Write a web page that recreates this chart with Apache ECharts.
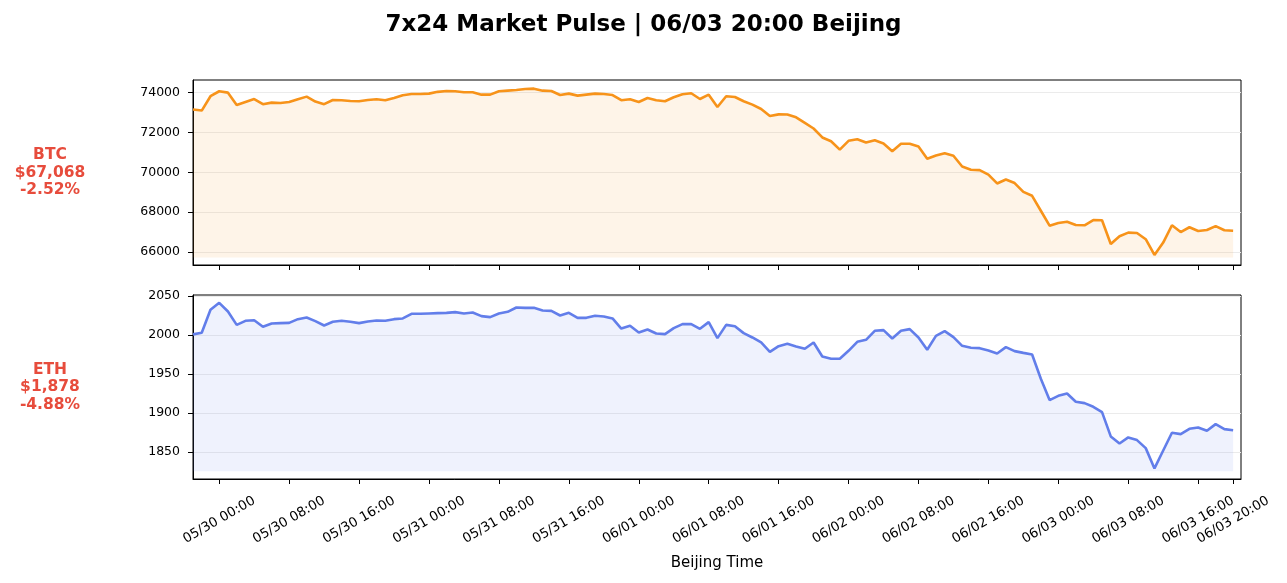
<!DOCTYPE html>
<html>
<head>
<meta charset="utf-8">
<script src="https://cdn.jsdelivr.net/npm/echarts@6/dist/echarts.min.js"></script>
<style>
  html, body { margin: 0; padding: 0; background: #fff; }
  #chart { width: 1287px; height: 583px; }
</style>
</head>
<body>
<div id="chart"></div>
<script>
// hourly closes, first point 05/29 21:00 Beijing, last 06/03 20:00
const days = ['05/29', '05/30', '05/31', '06/01', '06/02', '06/03'];
const firstHour = -3; // hours relative to 05/30 00:00
const tickHours = [0, 8, 16, 24, 32, 40, 48, 56, 64, 72, 80, 88, 96, 104, 112, 116];

const btc = [
  73150, 73100, 73820, 74070, 74000, 73380, 73530, 73680, 73420, 73500,
  73480, 73530, 73670, 73800, 73550, 73420, 73630, 73620, 73580, 73570,
  73630, 73670, 73620, 73730, 73870, 73930, 73930, 73950, 74040, 74080,
  74070, 74020, 74020, 73900, 73900, 74070, 74100, 74130, 74180, 74200,
  74100, 74080, 73880, 73950, 73850, 73900, 73950, 73930, 73880, 73620,
  73670, 73530, 73730, 73620, 73570, 73770, 73920, 73970, 73680, 73900,
  73280, 73820, 73780, 73570, 73400, 73180, 72830, 72910, 72900, 72760,
  72480, 72200, 71750, 71560, 71140, 71580, 71660, 71500, 71610, 71450,
  71060, 71430, 71430, 71290, 70680, 70840, 70960, 70830, 70290, 70130,
  70110, 69880, 69440, 69640, 69460, 69020, 68820, 68070, 67320, 67450,
  67520, 67350, 67340, 67600, 67590, 66400, 66790, 66970, 66950, 66640,
  65850, 66470, 67340, 67000, 67240, 67050, 67100, 67300, 67090, 67068
];
const eth = [
  2001, 2003, 2032.5, 2041.5, 2030.3, 2013.2, 2018.4, 2019.2, 2010.7, 2015,
  2015.4, 2015.8, 2020.5, 2022.6, 2018, 2012.4, 2017.1, 2018.4, 2017.1, 2015.4,
  2017.5, 2018.8, 2018.4, 2020.5, 2021.4, 2027.4, 2027.4, 2027.8, 2028.2, 2028.6,
  2029.5, 2027.8, 2029.1, 2024.4, 2023.1, 2027.8, 2029.9, 2035.5, 2035, 2035,
  2031.6, 2031.2, 2025.2, 2028.6, 2022.2, 2022.2, 2024.8, 2023.9, 2021.4, 2008.5,
  2012, 2003.4, 2007.3, 2002.1, 2001.3, 2009, 2014.1, 2014.1, 2008.1, 2016.7,
  1996.2, 2013.2, 2011.5, 2002.6, 1997, 1990.6, 1978.6, 1985.9, 1988.9, 1985.5,
  1982.5, 1990.6, 1972.6, 1969.7, 1969.7, 1979.9, 1991.5, 1994, 2005.6, 2006.4,
  1995.7, 2005.6, 2007.7, 1997, 1981.2, 1999.1, 2005.1, 1997.4, 1986.3, 1983.8,
  1983.3, 1980.3, 1976.5, 1984.6, 1979.5, 1977.3, 1975.2, 1944, 1916.7, 1922.2,
  1925.2, 1914.5, 1912.8, 1908.1, 1901.3, 1870.1, 1861.1, 1868.8, 1865.4, 1855.1,
  1829.1, 1852.1, 1874.8, 1873.1, 1879.9, 1881.6, 1877.3, 1885.9, 1879.5, 1878
];
const btcTicks = [66000, 68000, 70000, 72000, 74000];
const ethTicks = [1850, 1900, 1950, 2000, 2050];
const labels = [
  ['BTC', '$67,068', '-2.52%'],
  ['ETH', '$1,878', '-4.88%']
];

const FONT = 'DejaVu Sans';
const pad = (n) => (n < 10 ? '0' : '') + n;
const hourLabel = (h) => {
  const d = Math.floor(h / 24) + 1;
  const hh = ((h % 24) + 24) % 24;
  return days[d] + ' ' + pad(hh) + ':00';
};
const toPoints = (arr) => arr.map((v, i) => [firstHour + i, v]);

const chart = echarts.init(document.getElementById('chart'), null, { renderer: 'canvas' });

const gridBase = { left: 193, right: 46, show: true, borderColor: '#000', borderWidth: 1, backgroundColor: '#fff' };

const xAxisBase = (idx, showLabels) => ({
  type: 'value',
  gridIndex: idx,
  min: -3,
  max: 116.9,
  axisLine: { show: true, onZero: false, lineStyle: { color: '#000', width: 1 } },
  axisTick: { show: true, customValues: tickHours, length: 5, inside: false, lineStyle: { color: '#000', width: 1 } },
  axisLabel: {
    show: showLabels,
    customValues: tickHours,
    rotate: 30,
    align: 'center',
    verticalAlign: 'middle',
    margin: 41,
    fontFamily: FONT,
    fontSize: 13.3,
    color: '#000',
    formatter: (v) => hourLabel(v)
  },
  splitLine: { show: false },
  name: showLabels ? 'Beijing Time' : '',
  nameLocation: 'middle',
  nameGap: 77,
  nameTextStyle: { fontFamily: FONT, fontSize: 15, color: '#000' }
});

const yAxisBase = (idx, min, max, ticks) => ({
  type: 'value',
  gridIndex: idx,
  min: min,
  max: max,
  axisLine: { show: true, onZero: false, lineStyle: { color: '#000', width: 1 } },
  axisTick: { show: true, customValues: ticks, length: 5, lineStyle: { color: '#000', width: 1 } },
  axisLabel: {
    customValues: ticks,
    margin: 13,
    fontFamily: FONT,
    fontSize: 12.5,
    color: '#000',
    formatter: (v) => String(v)
  },
  splitLine: { show: true, lineStyle: { color: '#ebebeb', width: 1 } }
});

const lineSeries = (idx, data, color) => ({
  type: 'line',
  xAxisIndex: idx,
  yAxisIndex: idx,
  data: toPoints(data),
  showSymbol: false,
  smooth: false,
  lineStyle: { color: color, width: 2.6 },
  itemStyle: { color: color },
  areaStyle: { color: color, opacity: 0.1, origin: Math.min(...data) * 0.998 },
  silent: true
});

const sideLabel = (lines, cy) => ({
  type: 'text',
  x: 50,
  y: cy,
  style: {
    text: lines.join('\n'),
    fill: '#e74c3c',
    font: 'bold 15.5px "DejaVu Sans"',
    lineHeight: 17.5,
    align: 'center',
    verticalAlign: 'middle'
  }
});

chart.setOption({
  animation: false,
  backgroundColor: '#fff',
  title: {
    text: '7x24 Market Pulse | 06/03 20:00 Beijing',
    left: 'center',
    top: 9,
    textStyle: { fontFamily: FONT, fontSize: 23, fontWeight: 'bold', color: '#000' }
  },
  grid: [
    Object.assign({ top: 80, height: 185 }, gridBase),
    Object.assign({ top: 295, height: 184 }, gridBase)
  ],
  xAxis: [xAxisBase(0, false), xAxisBase(1, true)],
  yAxis: [
    yAxisBase(0, 65345, 74635, btcTicks),
    yAxisBase(1, 1815.5, 2051.5, ethTicks)
  ],
  series: [
    lineSeries(0, btc, '#F7931A'),
    lineSeries(1, eth, '#627EEA')
  ],
  graphic: [sideLabel(labels[0], 172.5), sideLabel(labels[1], 387)]
});
</script>
</body>
</html>
